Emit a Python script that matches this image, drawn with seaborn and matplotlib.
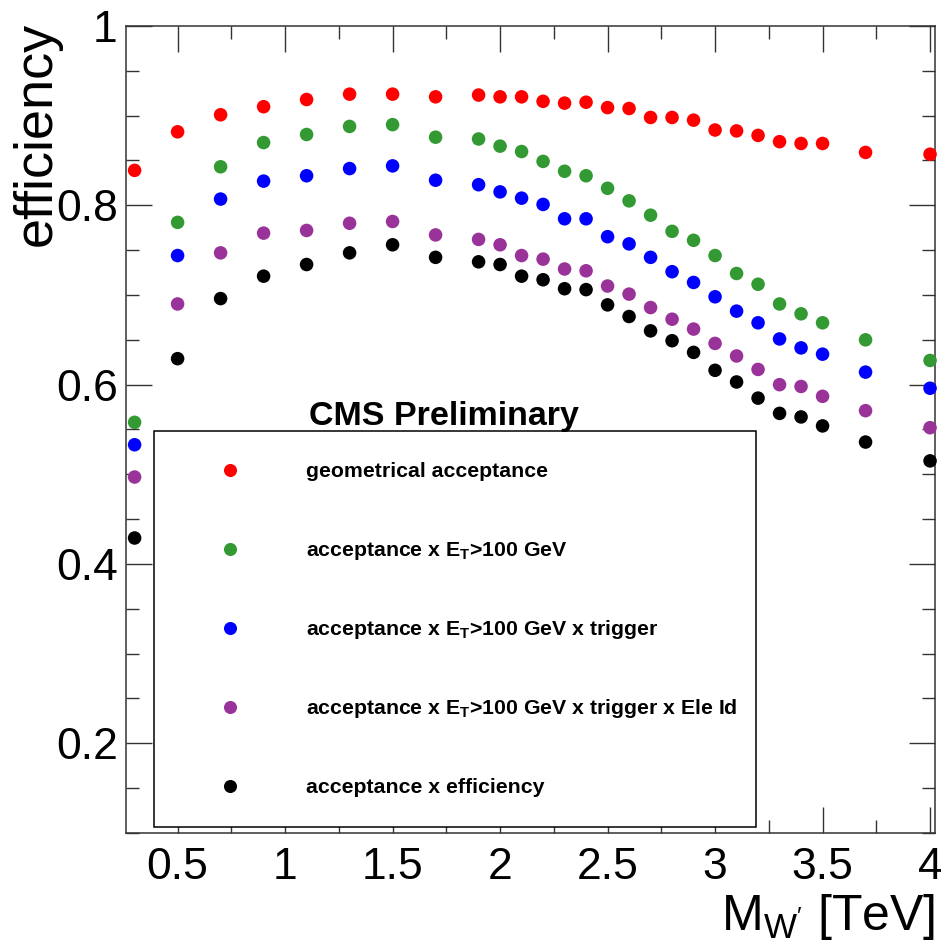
import numpy as np
import pandas as pd
import matplotlib
matplotlib.use("Agg")
import matplotlib.pyplot as plt
from matplotlib.lines import Line2D
from matplotlib.patches import Rectangle
from matplotlib.ticker import MultipleLocator, FuncFormatter
from matplotlib.font_manager import FontProperties
from matplotlib.legend_handler import HandlerLine2D
import seaborn as sns

# W' mass points [TeV]
mass = [0.3, 0.5, 0.7, 0.9, 1.1, 1.3, 1.5, 1.7, 1.9, 2.0, 2.1, 2.2, 2.3, 2.4,
        2.5, 2.6, 2.7, 2.8, 2.9, 3.0, 3.1, 3.2, 3.3, 3.4, 3.5, 3.7, 4.0]

geom_acc = [0.839, 0.882, 0.901, 0.910, 0.918, 0.924, 0.924, 0.921, 0.923, 0.921,
            0.921, 0.916, 0.914, 0.915, 0.909, 0.908, 0.898, 0.898, 0.895, 0.884,
            0.883, 0.878, 0.871, 0.869, 0.869, 0.859, 0.857]
acc_et = [0.558, 0.781, 0.843, 0.870, 0.879, 0.888, 0.890, 0.876, 0.874, 0.866,
          0.860, 0.849, 0.838, 0.833, 0.819, 0.805, 0.789, 0.771, 0.761, 0.744,
          0.724, 0.712, 0.690, 0.679, 0.669, 0.650, 0.627]
acc_et_trig = [0.533, 0.744, 0.807, 0.827, 0.833, 0.841, 0.844, 0.828, 0.823, 0.815,
               0.808, 0.801, 0.785, 0.785, 0.765, 0.757, 0.742, 0.726, 0.714, 0.698,
               0.682, 0.669, 0.651, 0.641, 0.634, 0.614, 0.596]
acc_et_trig_id = [0.497, 0.690, 0.747, 0.769, 0.772, 0.780, 0.782, 0.767, 0.762, 0.756,
                  0.744, 0.740, 0.729, 0.727, 0.710, 0.701, 0.686, 0.673, 0.662, 0.646,
                  0.632, 0.617, 0.600, 0.598, 0.587, 0.571, 0.552]
acc_eff = [0.429, 0.629, 0.696, 0.721, 0.734, 0.747, 0.756, 0.742, 0.737, 0.734,
           0.721, 0.717, 0.707, 0.706, 0.689, 0.676, 0.660, 0.649, 0.636, 0.616,
           0.603, 0.585, 0.568, 0.564, 0.554, 0.536, 0.515]

series_labels = [
    "geometrical acceptance",
    r"acceptance x E$_{\mathbf{T}}$>100 GeV",
    r"acceptance x E$_{\mathbf{T}}$>100 GeV x trigger",
    r"acceptance x E$_{\mathbf{T}}$>100 GeV x trigger x Ele Id",
    "acceptance x efficiency",
]
series_colors = ["#ff0000", "#339933", "#0000ff", "#993399", "#000000"]
series_values = [geom_acc, acc_et, acc_et_trig, acc_et_trig_id, acc_eff]

df = pd.concat(
    [pd.DataFrame({"mass": mass, "eff": vals, "step": lab})
     for lab, vals in zip(series_labels, series_values)],
    ignore_index=True,
)


class LoweredMarkerHandler(HandlerLine2D):
    """Legend key whose marker sits a little lower, level with the label text."""

    def __init__(self, drop=3.6, **kw):
        super().__init__(**kw)
        self.drop = drop

    def create_artists(self, legend, orig_handle, xdescent, ydescent, width,
                       height, fontsize, trans):
        artists = super().create_artists(legend, orig_handle, xdescent, ydescent,
                                         width, height, fontsize, trans)
        for a in artists:
            a.set_ydata(np.asarray(a.get_ydata()) - self.drop)
        return artists


sns.set_theme(style="ticks")
plt.rcParams["font.family"] = ["Liberation Sans", "DejaVu Sans"]
plt.rcParams["mathtext.fontset"] = "custom"
plt.rcParams["mathtext.rm"] = "Liberation Sans"
plt.rcParams["mathtext.it"] = "Liberation Sans:italic"
plt.rcParams["mathtext.bf"] = "Liberation Sans:bold"
plt.rcParams["text.color"] = "black"
plt.rcParams["axes.labelcolor"] = "black"

fig = plt.figure(figsize=(9.41, 9.47), dpi=100)
ax = fig.add_axes([126 / 941, 1 - 833 / 947, 809 / 941, 807 / 947])

sns.scatterplot(data=df, x="mass", y="eff", hue="step", hue_order=series_labels,
                palette=dict(zip(series_labels, series_colors)), s=95,
                linewidth=0, legend=False, ax=ax, zorder=3, clip_on=False)

ax.set_xlim(0.26, 4.023)
ax.set_ylim(0.1, 1.0)
ax.xaxis.set_major_locator(MultipleLocator(0.5))
ax.xaxis.set_minor_locator(MultipleLocator(0.25))
ax.yaxis.set_major_locator(MultipleLocator(0.2))
ax.yaxis.set_minor_locator(MultipleLocator(0.05))
fmt = FuncFormatter(lambda v, p: "%g" % round(v, 3))
ax.xaxis.set_major_formatter(fmt)
ax.yaxis.set_major_formatter(fmt)

frame_col = "#333333"
for sp in ax.spines.values():
    sp.set_visible(True)
    sp.set_linewidth(1.1)
    sp.set_color(frame_col)
ax.tick_params(which="both", direction="in", top=True, right=True,
               color=frame_col, width=1.0, labelsize=32, labelcolor="black")
ax.tick_params(which="major", length=18.5)
ax.tick_params(which="minor", length=9.5)
ax.tick_params(axis="x", which="major", pad=10)
ax.tick_params(axis="y", which="major", pad=6)

ax.set_xlabel(r"M$_{\mathrm{W'}}$ [TeV]", fontsize=36, loc="right")
ax.set_ylabel("efficiency", fontsize=39, loc="top")
ax.xaxis.set_label_coords(1.0, -0.073)
ax.yaxis.set_label_coords(-0.080, 1.005)

ax.text(0.3925, 0.5056, "CMS Preliminary", transform=ax.transAxes,
        ha="center", va="baseline", fontsize=24.5, fontweight="bold", zorder=6)

# legend panel
x0, x1 = (154 - 126) / 809, (756 - 126) / 809
y0, y1 = (833 - 827) / 807, (833 - 431) / 807
ax.add_patch(Rectangle((x0, y0), x1 - x0, y1 - y0, transform=ax.transAxes,
                       facecolor="white", edgecolor="black", linewidth=1.1,
                       zorder=4, clip_on=False))
handles = [Line2D([], [], linestyle="none", marker="o", markersize=9.4,
                  markerfacecolor=c, markeredgewidth=0) for c in series_colors]
leg_fs = 15.3
leg = ax.legend(handles, series_labels, loc="upper left",
                bbox_to_anchor=(x0, y1 + 5 / 807), bbox_transform=ax.transAxes,
                frameon=False, borderaxespad=0, borderpad=1.3,
                handlelength=4.55, handletextpad=1.3, handleheight=2.0,
                labelspacing=2.17, numpoints=1,
                handler_map={Line2D: LoweredMarkerHandler(drop=3.6)},
                prop=FontProperties(family="Liberation Sans", weight="bold", size=leg_fs))
leg.set_zorder(5)
for t in leg.get_texts():
    t.set_color("black")

fig.savefig("out.png", dpi=100)
